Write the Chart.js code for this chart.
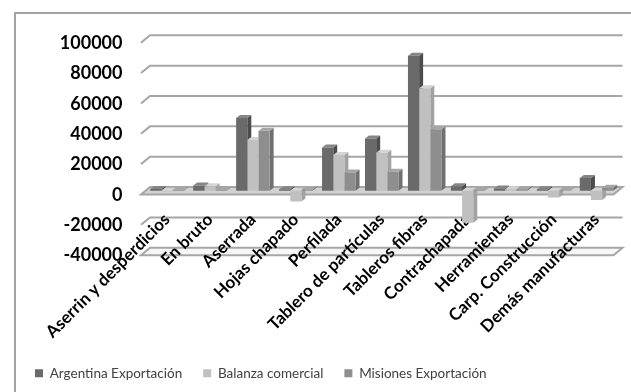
<!DOCTYPE html>
<html><head><meta charset="utf-8">
<script src="https://cdn.jsdelivr.net/npm/chart.js@4"></script>
<style>html,body{margin:0;padding:0;background:#fff;}</style>
</head><body>
<canvas id="c" width="631" height="392"></canvas>
<script>
const categories = ["Aserrin y desperdicios","En bruto","Aserrada","Hojas chapado","Perfilada","Tablero de partículas","Tableros fibras","Contrachapada","Herramientas","Carp. Construcción","Demás manufacturas"];
const argentinaExportacion = [1200, 3500, 48000, 1000, 28500, 34500, 89000, 3000, 1500, 1000, 8500];
const balanzaComercial = [-500, 3000, 33500, -7000, 23500, 25000, 67500, -21000, 1000, -4500, -6000];
const misionesExportacion = [600, 500, 39500, 800, 12000, 12500, 40500, 500, 1000, 300, 2000];
const seriesNames = ["Argentina Exportación","Balanza comercial","Misiones Exportación"];
const yMin = -40000, yMax = 100000, yStep = 20000;

const DX = 4.5, DY = 3.7;   // half depth of the 3D planes
const BX = 4, BY = 3;       // bar depth

const framePlugin = {
  id: 'frame',
  beforeDraw(chart) {
    const ctx = chart.ctx;
    const { left, right } = chart.chartArea;
    const ys = chart.scales.y;
    ctx.save();
    ctx.fillStyle = '#fff';
    ctx.fillRect(0, 0, chart.width, chart.height);
    ctx.strokeStyle = '#a3a3a3';
    ctx.lineWidth = 2;
    ctx.strokeRect(15, 13, chart.width + 20, chart.height + 20);
    ctx.strokeStyle = '#a6a6a6';
    ys.ticks.forEach(t => {
      const py = ys.getPixelForValue(t.value);
      if (t.value === 0 || t.value === ys.min) {
        ctx.beginPath();
        ctx.moveTo(left - DX, py + DY);
        ctx.lineTo(right - DX, py + DY);
        ctx.lineTo(right + DX, py - DY);
        ctx.lineTo(left + DX, py - DY);
        ctx.closePath();
        ctx.fillStyle = t.value === 0 ? '#d2d2d2' : '#f6f6f6';
        ctx.fill();
        ctx.stroke();
      } else {
        ctx.beginPath();
        ctx.moveTo(left - DX, py + DY);
        ctx.lineTo(left + DX, py - DY);
        ctx.lineTo(right + DX, py - DY);
        ctx.stroke();
      }
    });
    ctx.restore();
  }
};

const depthPlugin = {
  id: 'depth',
  beforeDatasetsDraw(chart) {
    const ctx = chart.ctx;
    ctx.save();
    const n = chart.data.labels.length;
    for (let i = 0; i < n; i++) {
      chart.data.datasets.forEach((ds, di) => {
        const el = chart.getDatasetMeta(di).data[i];
        const p = el.getProps(['x', 'y', 'base', 'width'], true);
        const l = p.x - p.width / 2, r = p.x + p.width / 2;
        const top = Math.min(p.y, p.base), bot = Math.max(p.y, p.base);
        ctx.fillStyle = ds.sideColor;
        ctx.beginPath();
        ctx.moveTo(r, top); ctx.lineTo(r + BX, top - BY); ctx.lineTo(r + BX, bot - BY); ctx.lineTo(r, bot);
        ctx.closePath(); ctx.fill();
        ctx.fillStyle = ds.topColor;
        ctx.beginPath();
        ctx.moveTo(l, top); ctx.lineTo(l + BX, top - BY); ctx.lineTo(r + BX, top - BY); ctx.lineTo(r, top);
        ctx.closePath(); ctx.fill();
      });
    }
    ctx.restore();
  }
};

new Chart(document.getElementById('c'), {
  type: 'bar',
  data: {
    labels: categories,
    datasets: [
      { label: seriesNames[0], data: argentinaExportacion, backgroundColor: '#6a6a6a', topColor: '#858585', sideColor: '#4c4c4c' },
      { label: seriesNames[1], data: balanzaComercial, backgroundColor: '#c0c0c0', topColor: '#d4d4d4', sideColor: '#a2a2a2' },
      { label: seriesNames[2], data: misionesExportacion, backgroundColor: '#8e8e8e', topColor: '#a6a6a6', sideColor: '#707070' }
    ]
  },
  plugins: [framePlugin, depthPlugin],
  options: {
    responsive: false,
    animation: false,
    devicePixelRatio: 1,
    datasets: { bar: { barPercentage: 1, categoryPercentage: 0.78 } },
    layout: { padding: { left: 14, top: 39, right: 13, bottom: 2 } },
    plugins: {
      legend: {
        position: 'bottom', align: 'start',
        labels: { boxWidth: 8, boxHeight: 8, padding: 21, color: '#404040', font: { family: 'Lato', size: 13.5 } }
      },
      tooltip: { enabled: false }
    },
    scales: {
      x: {
        grid: { display: false, drawTicks: false },
        border: { display: false },
        ticks: { autoSkip: false, maxRotation: 45, minRotation: 45, padding: -42, color: '#000', font: { family: 'Lato', weight: 'bold', size: 17 } },
        afterFit(s) { s.height = 94; s._computeLabelArea = () => undefined; }
      },
      y: {
        min: yMin, max: yMax,
        grid: { display: false, drawTicks: false },
        border: { display: false },
        ticks: { stepSize: yStep, padding: 23, labelOffset: 4, color: '#000', font: { family: 'Lato', weight: 'bold', size: 18 },
          callback: v => String(v) },
        afterFit(s) { s.width = 131.5; }
      }
    }
  }
});
</script>
</body></html>
